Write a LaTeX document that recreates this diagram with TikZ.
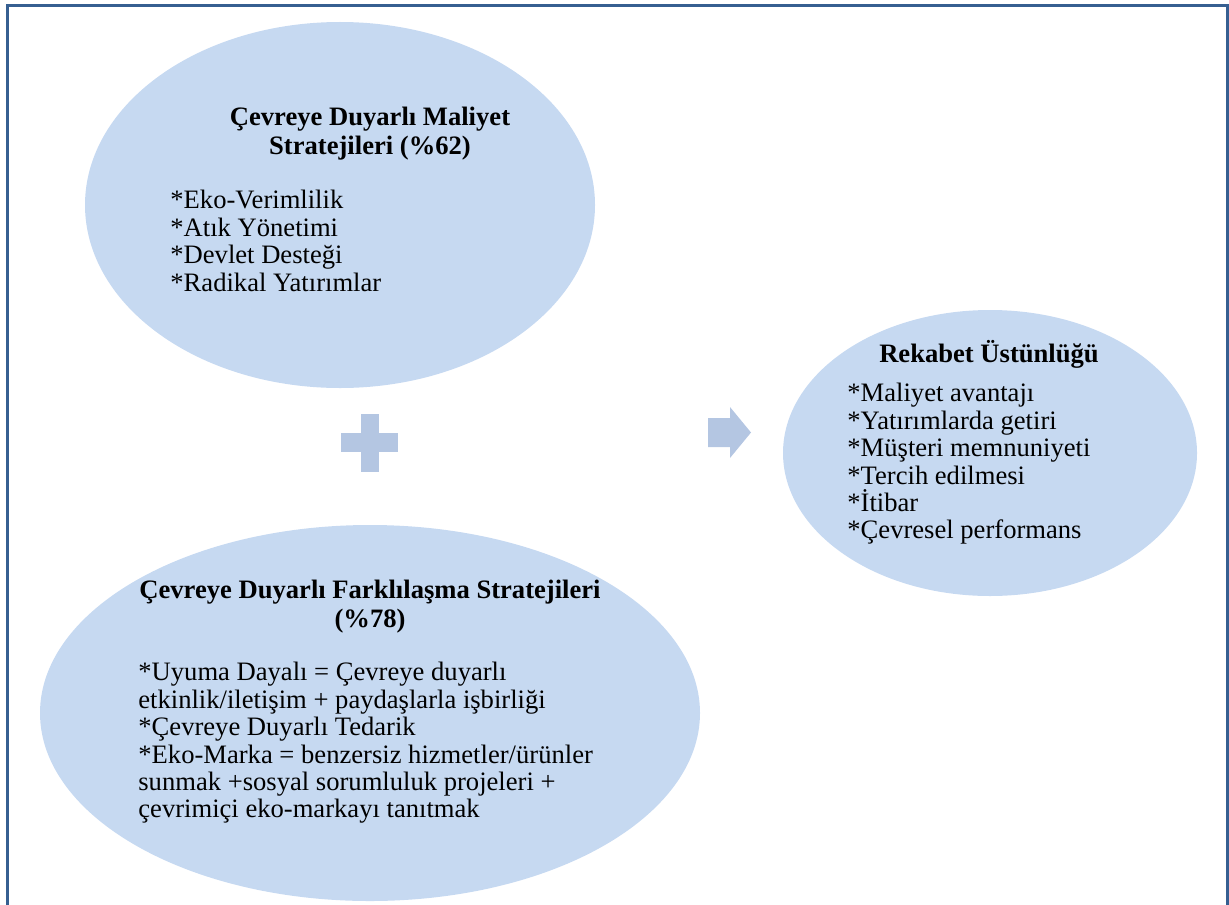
\documentclass[tikz,border=0pt]{standalone}
\usepackage{fontspec}
\setmainfont{Liberation Serif}
\usetikzlibrary{shapes.geometric,positioning}
\definecolor{blobfill}{HTML}{C6D9F1}
\definecolor{signfill}{HTML}{B4C6E2}
\definecolor{framecol}{HTML}{365F91}

\begin{document}
\begin{tikzpicture}[x=0.5pt,y=-0.5pt,
    blob/.style={ellipse,fill=blobfill,inner sep=0pt},
    head/.style={font=\fontsize{13.3}{14.4}\selectfont\bfseries,align=center,anchor=north,inner sep=0pt},
    items/.style={font=\fontsize{13.3}{13.7}\selectfont,align=left,anchor=north west,inner sep=0pt},
    sign/.style={fill=signfill}]
\useasboundingbox (0,0) rectangle (1229,904);
\draw[framecol,line width=1.2pt] (7.5,910) -- (7.5,5.5) -- (1227.5,5.5) -- (1227.5,910);

% the three ellipses
\node[blob,minimum width=255pt,minimum height=183pt] (cost) at (340,205) {};
\node[blob,minimum width=330pt,minimum height=188pt] (diff) at (370,713) {};
\node[blob,minimum width=207pt,minimum height=143pt] (gain) at (990,453) {};

% plus and arrow
\fill[sign] (361,414) rectangle (379,472);
\fill[sign] (341,433) rectangle (398,452);
\fill[sign] (708,418) -- (730,418) -- (730,407) -- (751,432.5) -- (730,458) -- (730,447) -- (708,447) -- cycle;

% texts
\node[head] (costHead) at (370,107) {Çevreye Duyarlı Maliyet\\Stratejileri (\%62)};
\node[items] (costList) at (170,190) {*Eko-Verimlilik\\{}*Atık Yönetimi\\{}*Devlet Desteği\\{}*Radikal Yatırımlar};

\node[head] (diffHead) at (370,580) {Çevreye Duyarlı Farklılaşma Stratejileri\\(\%78)};
\node[items] (diffList) at (138,662) {*Uyuma Dayalı = Çevreye duyarlı\\etkinlik/iletişim + paydaşlarla işbirliği\\{}*Çevreye Duyarlı Tedarik\\{}*Eko-Marka = benzersiz hizmetler/ürünler\\sunmak +sosyal sorumluluk projeleri +\\çevrimiçi eko-markayı tanıtmak};

\node[head] (gainHead) at (989,340) {Rekabet Üstünlüğü};
\node[items] (gainList) at (847,383) {*Maliyet avantajı\\{}*Yatırımlarda getiri\\{}*Müşteri memnuniyeti\\{}*Tercih edilmesi\\{}*İtibar\\{}*Çevresel performans};
\end{tikzpicture}
\end{document}
